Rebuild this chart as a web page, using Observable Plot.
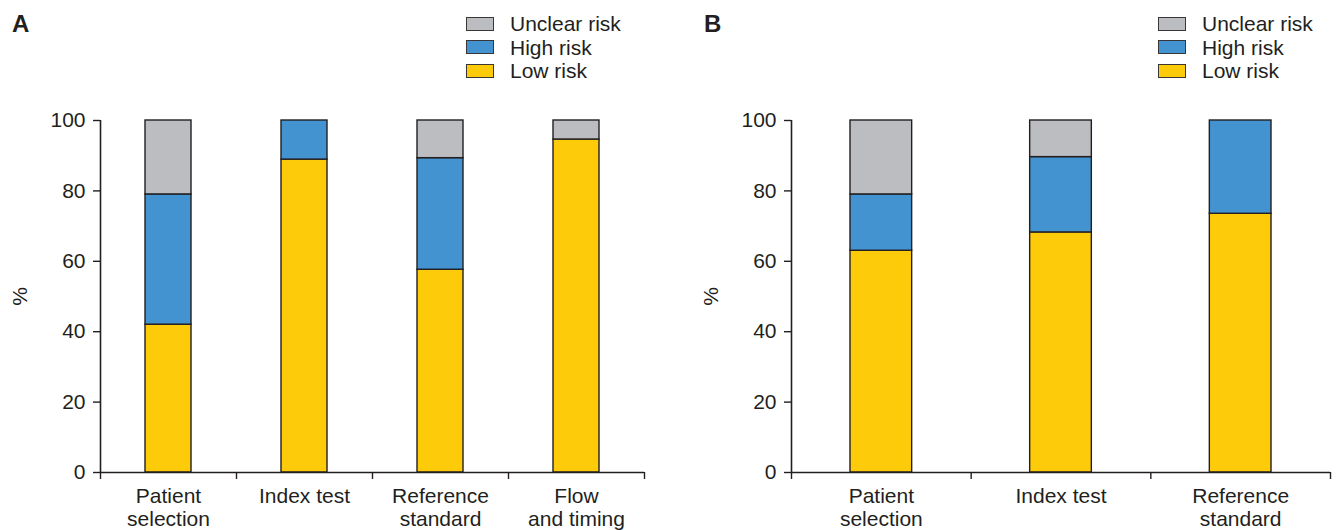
<!DOCTYPE html>
<html>
<head>
<meta charset="utf-8">
<script src="https://cdn.jsdelivr.net/npm/d3@7"></script>
<script src="https://cdn.jsdelivr.net/npm/@observablehq/plot@0.6"></script>
<style>
  html, body { margin: 0; padding: 0; background: #fff; }
  #wrap { position: relative; width: 1341px; height: 530px; overflow: hidden; font-family: "Liberation Sans", Arial, sans-serif; color: #231F20; }
  .panel { position: absolute; top: 0; }
  .letter { position: absolute; font-family: "Liberation Sans Narrow", "Liberation Sans", sans-serif; font-weight: bold; font-size: 24px; line-height: 1; }
  .legend { position: absolute; font-size: 21px; line-height: 23px; }
  .legend .row { display: flex; align-items: center; height: 23.5px; }
  .legend .sw { width: 26px; height: 12px; border: 1.5px solid #3a3536; margin-right: 16px; box-sizing: content-box; }
</style>
</head>
<body>
<div id="wrap"></div>
<script>
// ---- data ----
const risks = ["Low risk", "High risk", "Unclear risk"];
const legendOrder = ["Unclear risk", "High risk", "Low risk"];
const riskColors = ["#FECB0A", "#4393D0", "#BCBDC0"];

const catsA = ["Patient\nselection", "Index test", "Reference\nstandard", "Flow\nand timing"];
const lowA = [42.0, 88.9, 57.6, 94.6];
const highA = [37.0, 11.1, 31.7, 0];
const unclearA = [21.0, 0, 10.7, 5.4];

const catsB = ["Patient\nselection", "Index test", "Reference\nstandard"];
const lowB = [63.0, 68.2, 73.5];
const highB = [16.0, 21.4, 26.5];
const unclearB = [21.0, 10.4, 0];

const yTicks = [0, 20, 40, 60, 80, 100];

function buildRows(cats, low, high, unclear) {
  const rows = [];
  cats.forEach((c, i) => {
    rows.push({i, cat: c, risk: "Low risk", value: low[i]});
    rows.push({i, cat: c, risk: "High risk", value: high[i]});
    rows.push({i, cat: c, risk: "Unclear risk", value: unclear[i]});
  });
  return rows;
}

function makePanel(cats, low, high, unclear, o) {
  const rows = buildRows(cats, low, high, unclear).filter(d => d.value > 0);
  const n = cats.length;
  return Plot.plot({
    width: o.width,
    height: 530,
    marginTop: 120,
    marginBottom: 58,
    marginLeft: o.marginLeft,
    marginRight: o.marginRight,
    style: {fontFamily: "'Liberation Sans', Arial, sans-serif", fontSize: "21px", color: "#231F20", background: "transparent", overflow: "visible"},
    x: {domain: [0, n], axis: null},
    y: {domain: [0, 100], axis: null},
    color: {domain: risks, range: riskColors},
    marks: [
      Plot.rectY(rows, Plot.stackY({
        x1: "i",
        x2: d => d.i + 1,
        y: "value",
        fill: "risk",
        order: risks,
        insetLeft: o.inset,
        insetRight: o.inset,
        stroke: "#231F20",
        strokeWidth: 1.4
      })),
      Plot.axisY(yTicks, {
        anchor: "left",
        tickSize: 7,
        tickPadding: 8,
        stroke: "#231F20",
        strokeWidth: 1.4,
        fill: "#231F20",
        fontSize: 21,
        label: "%",
        labelAnchor: "center",
        labelArrow: "none",
        labelOffset: 88
      }),
      Plot.axisX(d3.range(n + 1), {
        anchor: "bottom",
        tickSize: 7,
        tickFormat: () => "",
        stroke: "#231F20",
        strokeWidth: 1.4,
        label: null
      }),
      Plot.axisX(cats.map((c, i) => i + 0.5), {
        anchor: "bottom",
        tickSize: 0,
        tickPadding: 13,
        tickFormat: d => cats[Math.floor(d)],
        fill: "#231F20",
        fontSize: 21,
        lineHeight: 1.14,
        label: null
      }),
      Plot.ruleY([0], {stroke: "#231F20", strokeWidth: 1.6}),
      Plot.ruleX([0], {y1: 0, y2: 100, stroke: "#231F20", strokeWidth: 1.6})
    ]
  });
}

const wrap = document.getElementById("wrap");

function addPanel(plot, left) {
  const d = document.createElement("div");
  d.className = "panel";
  d.style.left = left + "px";
  d.appendChild(plot);
  wrap.appendChild(d);
}

function addLetter(t, left, top) {
  const d = document.createElement("div");
  d.className = "letter";
  d.textContent = t;
  d.style.left = left + "px";
  d.style.top = top + "px";
  wrap.appendChild(d);
}

function addLegend(left, top) {
  const d = document.createElement("div");
  d.className = "legend";
  d.style.left = left + "px";
  d.style.top = top + "px";
  legendOrder.forEach(r => {
    const row = document.createElement("div");
    row.className = "row";
    const sw = document.createElement("span");
    sw.className = "sw";
    sw.style.background = riskColors[risks.indexOf(r)];
    const tx = document.createElement("span");
    tx.textContent = r;
    row.appendChild(sw);
    row.appendChild(tx);
    d.appendChild(row);
  });
  wrap.appendChild(d);
}

addPanel(makePanel(catsA, lowA, highA, unclearA, {width: 660, marginLeft: 100, marginRight: 16, inset: 45}), 0);
addPanel(makePanel(catsB, lowB, highB, unclearB, {width: 671, marginLeft: 121, marginRight: 11, inset: 59}), 670);

addLetter("A", 12, 12);
addLetter("B", 704, 12);
addLegend(466, 12);
addLegend(1158, 12);
</script>
</body>
</html>
